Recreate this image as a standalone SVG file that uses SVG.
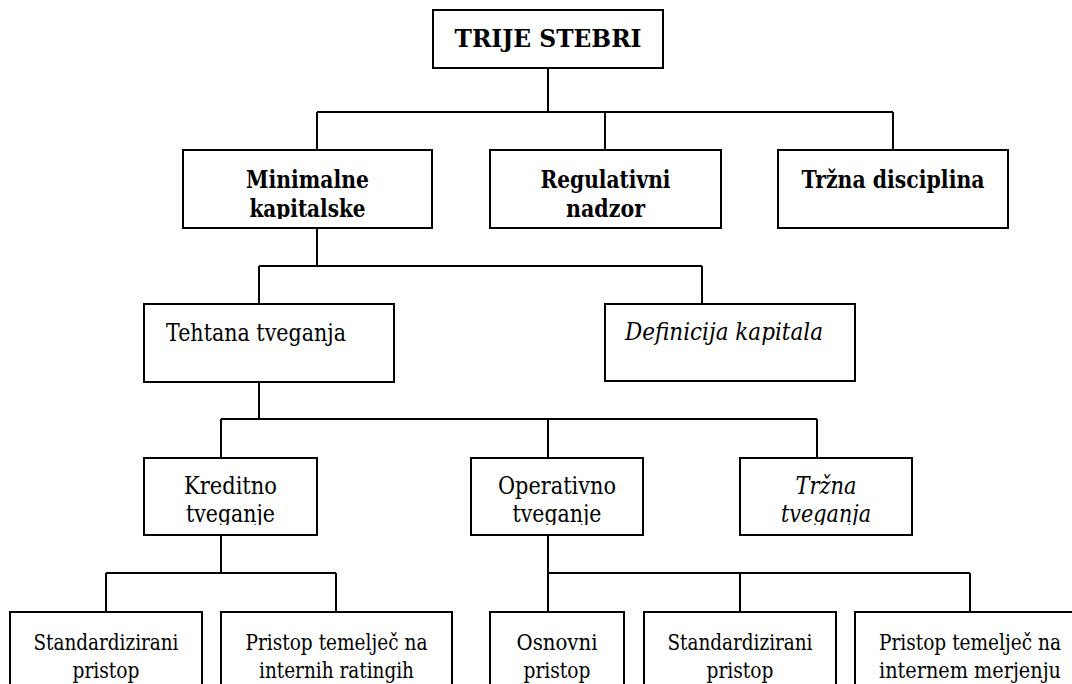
<svg xmlns="http://www.w3.org/2000/svg" width="1072" height="684" viewBox="0 0 1072 684">
<style>
.box{fill:#fff;stroke:#000;stroke-width:2}
.ln{fill:none;stroke:#000;stroke-width:2}
text{font-family:"DejaVu Serif","Liberation Serif",serif;fill:#000}
.b{font-weight:bold;font-size:25px;text-anchor:middle}
.m{font-size:25px;text-anchor:middle}
.s{font-size:23px;text-anchor:middle}
.i{font-style:italic}
.st{text-anchor:start}
</style>
<defs>
<clipPath id="c1"><rect x="0" y="140" width="1072" height="79"/></clipPath>
<clipPath id="c3"><rect x="0" y="450" width="1072" height="75"/></clipPath>
</defs>
<g id="connectors">
<path class="ln" d="M548 68V112M317 112H893M317 112V150M605 112V150M893 112V150"/>
<path class="ln" d="M317 228V266M259 266H702M259 266V304M702 266V304"/>
<path class="ln" d="M259 382V419M221 419H817M221 419V458M548 419V458M817 419V458"/>
<path class="ln" d="M221 535V573M106 573H336M106 573V612M336 573V612"/>
<path class="ln" d="M548 535V612M548 573H970M740 573V612M970 573V612"/>
</g>
<g id="trije-stebri">
<rect class="box" x="433" y="10" width="230" height="58"/>
<text class="b" x="548" y="47" textLength="187" lengthAdjust="spacingAndGlyphs">TRIJE STEBRI</text>
</g>
<g id="minimalne">
<rect class="box" x="183" y="150" width="249" height="78"/>
<g clip-path="url(#c1)">
<text class="b" x="307.5" y="188" textLength="123" lengthAdjust="spacingAndGlyphs">Minimalne</text>
<text class="b" x="307.5" y="217" textLength="116" lengthAdjust="spacingAndGlyphs">kapitalske</text>
</g>
</g>
<g id="regulativni">
<rect class="box" x="490" y="150" width="231" height="78"/>
<text class="b" x="605.5" y="188" textLength="130" lengthAdjust="spacingAndGlyphs">Regulativni</text>
<text class="b" x="605.5" y="217" textLength="79" lengthAdjust="spacingAndGlyphs">nadzor</text>
</g>
<g id="trzna-disciplina">
<rect class="box" x="778" y="150" width="230" height="78"/>
<text class="b" x="893" y="188" textLength="183" lengthAdjust="spacingAndGlyphs">Tržna disciplina</text>
</g>
<g id="tehtana">
<rect class="box" x="144" y="304" width="250" height="78"/>
<text class="m st" x="166" y="341" textLength="180" lengthAdjust="spacingAndGlyphs">Tehtana tveganja</text>
</g>
<g id="definicija">
<rect class="box" x="605" y="304" width="250" height="77"/>
<text class="m i st" x="625" y="340" textLength="198" lengthAdjust="spacingAndGlyphs">Definicija kapitala</text>
</g>
<g id="kreditno">
<rect class="box" x="144" y="458" width="173" height="77"/>
<g clip-path="url(#c3)">
<text class="m" x="230.5" y="494" textLength="93" lengthAdjust="spacingAndGlyphs">Kreditno</text>
<text class="m" x="230.5" y="522" textLength="89" lengthAdjust="spacingAndGlyphs">tveganje</text>
</g>
</g>
<g id="operativno">
<rect class="box" x="471" y="458" width="172" height="77"/>
<g clip-path="url(#c3)">
<text class="m" x="557" y="494" textLength="118" lengthAdjust="spacingAndGlyphs">Operativno</text>
<text class="m" x="557" y="522" textLength="89" lengthAdjust="spacingAndGlyphs">tveganje</text>
</g>
</g>
<g id="trzna-tveganja">
<rect class="box" x="740" y="458" width="172" height="77"/>
<g clip-path="url(#c3)">
<text class="m i" x="826" y="494" textLength="61" lengthAdjust="spacingAndGlyphs">Tržna</text>
<text class="m i" x="826" y="522" textLength="90" lengthAdjust="spacingAndGlyphs">tveganja</text>
</g>
</g>
<g id="standardizirani-1">
<rect class="box" x="10" y="612" width="192" height="100"/>
<text class="s" x="106" y="650" textLength="145" lengthAdjust="spacingAndGlyphs">Standardizirani</text>
<text class="s" x="106" y="678" textLength="67" lengthAdjust="spacingAndGlyphs">pristop</text>
</g>
<g id="pristop-ratingi">
<rect class="box" x="221" y="612" width="231" height="100"/>
<text class="s" x="336.5" y="650" textLength="182" lengthAdjust="spacingAndGlyphs">Pristop temelječ na</text>
<text class="s" x="336.5" y="678" textLength="155" lengthAdjust="spacingAndGlyphs">internih ratingih</text>
</g>
<g id="osnovni">
<rect class="box" x="490" y="612" width="134" height="100"/>
<text class="s" x="557" y="650" textLength="81" lengthAdjust="spacingAndGlyphs">Osnovni</text>
<text class="s" x="557" y="678" textLength="67" lengthAdjust="spacingAndGlyphs">pristop</text>
</g>
<g id="standardizirani-2">
<rect class="box" x="644" y="612" width="192" height="100"/>
<text class="s" x="740" y="650" textLength="145" lengthAdjust="spacingAndGlyphs">Standardizirani</text>
<text class="s" x="740" y="678" textLength="67" lengthAdjust="spacingAndGlyphs">pristop</text>
</g>
<g id="pristop-merjenje">
<rect class="box" x="855" y="612" width="231" height="100"/>
<text class="s" x="970" y="650" textLength="182" lengthAdjust="spacingAndGlyphs">Pristop temelječ na</text>
<text class="s" x="970" y="678" textLength="182" lengthAdjust="spacingAndGlyphs">internem merjenju</text>
</g>
</svg>
